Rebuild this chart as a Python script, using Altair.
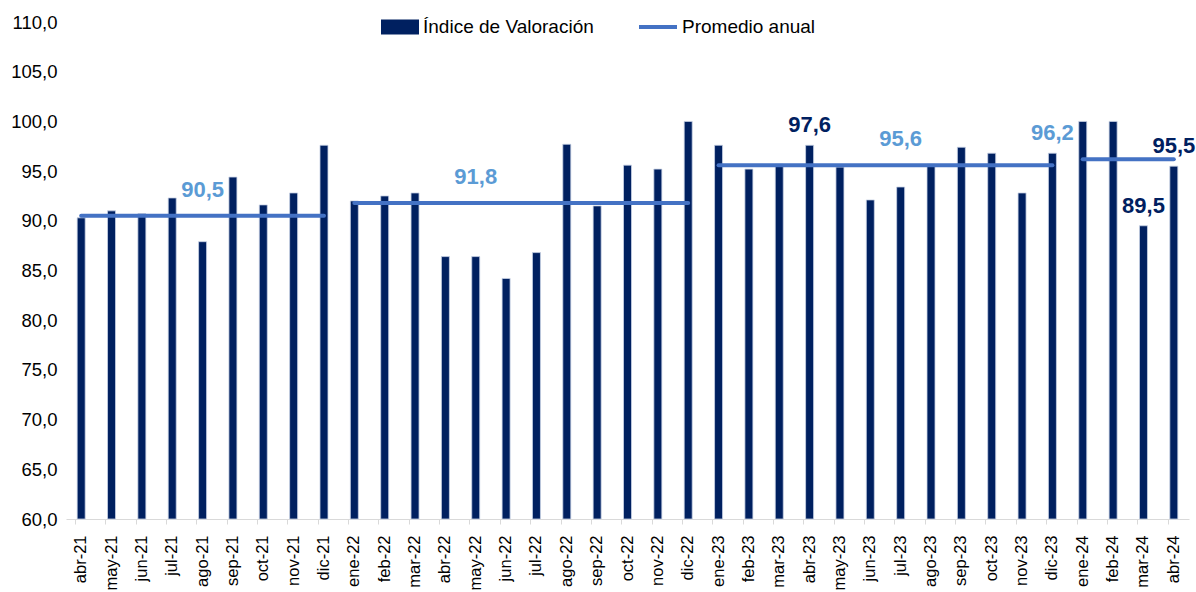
import altair as alt
import pandas as pd

months = ["abr-21", "may-21", "jun-21", "jul-21", "ago-21", "sep-21", "oct-21", "nov-21", "dic-21",
          "ene-22", "feb-22", "mar-22", "abr-22", "may-22", "jun-22", "jul-22", "ago-22", "sep-22",
          "oct-22", "nov-22", "dic-22",
          "ene-23", "feb-23", "mar-23", "abr-23", "may-23", "jun-23", "jul-23", "ago-23", "sep-23",
          "oct-23", "nov-23", "dic-23",
          "ene-24", "feb-24", "mar-24", "abr-24"]
values = [90.3, 91.0, 90.7, 92.3, 87.9, 94.4, 91.6, 92.8, 97.6,
          92.0, 92.5, 92.8, 86.4, 86.4, 84.2, 86.8, 97.7, 91.5, 95.6, 95.2, 100.0,
          97.6, 95.2, 95.7, 97.6, 95.4, 92.1, 93.4, 95.7, 97.4, 96.8, 92.8, 96.8,
          100.0, 100.0, 89.5, 95.5]
avg_years = ["21", "22", "23", "24"]
avg_values = [90.5, 91.8, 95.6, 96.2]
avg_label_months = ["ago-21", "may-22", "jul-23", "dic-23"]
labeled_months = ["abr-23", "mar-24", "abr-24"]
y_ticks = [60, 65, 70, 75, 80, 85, 90, 95, 100, 105, 110]

FONT = "Liberation Sans"
NAVY = "#002060"
LINE = "#4472C4"
LIGHT = "#5B9BD5"
FMT = "replace(format(datum.{f}, '.1f'), '.', ',')"

bars_df = pd.DataFrame({"mes": months, "valor": values, "serie": "Índice de Valoración"})
avg_map = dict(zip(avg_years, avg_values))
line_df = pd.DataFrame({
    "mes": months,
    "anio": [m[-2:] for m in months],
    "promedio": [avg_map[m[-2:]] for m in months],
    "serie": "Promedio anual",
})
avg_lbl_df = pd.DataFrame({"mes": avg_label_months, "promedio": avg_values})
val_lbl_df = bars_df[bars_df["mes"].isin(labeled_months)].reset_index(drop=True)

x_enc = alt.X("mes:N", sort=months,
              scale=alt.Scale(domain=months, paddingInner=0, paddingOuter=0),
              axis=alt.Axis(title=None, labelAngle=-90, labelFont=FONT, labelFontSize=16.5,
                            labelColor="#000000", domainColor="#D9D9D9", tickColor="#D9D9D9",
                            tickSize=5, labelPadding=11, bandPosition=0.31, grid=False))

y_scale = alt.Scale(domain=[60, 110], nice=False, zero=False)
y_axis = alt.Axis(title=None, values=y_ticks, labelExpr=FMT.format(f="value"), grid=False,
                  domain=False, ticks=False, labelPadding=9, labelFont=FONT, labelFontSize=18.5,
                  labelColor="#000000")


def y_enc(field):
    return alt.Y(f"{field}:Q", scale=y_scale, axis=y_axis)


bars = alt.Chart(bars_df).mark_bar(size=8, stroke="#C9D3E6", strokeWidth=0.8).encode(
    x=x_enc,
    y=y_enc("valor"),
    y2=alt.datum(60),
    fill=alt.Fill("serie:N",
                  scale=alt.Scale(domain=["Índice de Valoración"], range=[NAVY]),
                  legend=alt.Legend(title=None, orient="none", legendX=315, legendY=-14,
                                    symbolType="M-1,-0.39L1,-0.39L1,0.39L-1,0.39Z",
                                    symbolSize=1444, symbolStrokeWidth=0, labelFont=FONT,
                                    labelFontSize=19, labelColor="#000000", labelLimit=400,
                                    labelOffset=4, padding=0)),
)

lines = alt.Chart(line_df).mark_line(strokeWidth=4, strokeCap="round").encode(
    x=x_enc,
    y=y_enc("promedio"),
    detail="anio:N",
    stroke=alt.Stroke("serie:N",
                      scale=alt.Scale(domain=["Promedio anual"], range=[LINE]),
                      legend=alt.Legend(title=None, orient="none", legendX=571, legendY=-16,
                                        symbolType="stroke", symbolSize=1444,
                                        symbolStrokeWidth=4, labelFont=FONT, labelFontSize=19,
                                        labelColor="#000000", labelLimit=400, labelOffset=3,
                                        padding=0)),
)

avg_text = alt.Chart(avg_lbl_df).transform_calculate(
    lbl=FMT.format(f="promedio")
).mark_text(dy=-26, fontSize=22, fontWeight="bold", font=FONT, color=LIGHT,
            baseline="middle").encode(
    x=x_enc, y=y_enc("promedio"), text="lbl:N")

val_text = alt.Chart(val_lbl_df).transform_calculate(
    lbl=FMT.format(f="valor")
).mark_text(dy=-20, fontSize=22, fontWeight="bold", font=FONT, color=NAVY,
            baseline="middle").encode(
    x=x_enc, y=y_enc("valor"), text="lbl:N")

chart = alt.layer(bars, lines, avg_text, val_text).properties(
    width=1123, height=497,
    padding={"left": 66, "top": 22, "right": 7, "bottom": 73},
    autosize=alt.AutoSizeParams(type="none"),
    background="#FFFFFF",
).configure_view(stroke=None)

chart.save("out.html", embed_options={"renderer": "svg", "actions": False})
